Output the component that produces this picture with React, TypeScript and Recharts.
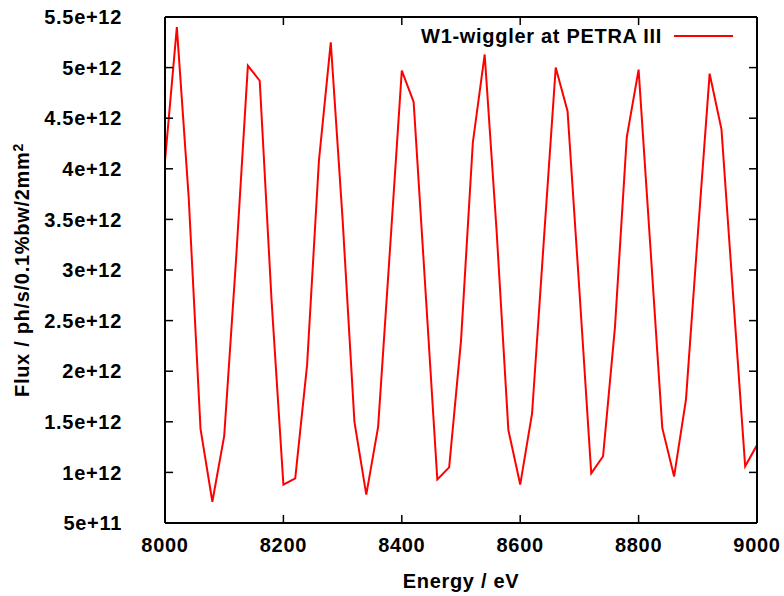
import { LineChart, Line, XAxis, YAxis, Legend, Label } from "recharts";

// photon energy grid (eV)
const energy = [
  8000, 8020, 8040, 8060, 8080, 8100, 8120, 8140, 8160, 8180,
  8200, 8220, 8240, 8260, 8280, 8300, 8320, 8340, 8360, 8380,
  8400, 8420, 8440, 8460, 8480, 8500, 8520, 8540, 8560, 8580,
  8600, 8620, 8640, 8660, 8680, 8700, 8720, 8740, 8760, 8780,
  8800, 8820, 8840, 8860, 8880, 8900, 8920, 8940, 8960, 8980,
  9000,
];

// flux (ph/s/0.1%bw/2mm^2)
const flux = [
  4.08e12, 5.4e12, 3.72e12, 1.43e12, 0.71e12, 1.36e12, 3.1e12, 5.02e12, 4.87e12, 2.7e12,
  0.88e12, 0.94e12, 2.06e12, 4.08e12, 5.25e12, 3.5e12, 1.5e12, 0.78e12, 1.45e12, 3.2e12,
  4.97e12, 4.66e12, 2.8e12, 0.93e12, 1.05e12, 2.3e12, 4.26e12, 5.13e12, 3.4e12, 1.42e12,
  0.88e12, 1.58e12, 3.3e12, 5.0e12, 4.57e12, 2.8e12, 0.99e12, 1.16e12, 2.43e12, 4.31e12,
  4.98e12, 3.22e12, 1.44e12, 0.96e12, 1.72e12, 3.35e12, 4.94e12, 4.39e12, 2.72e12, 1.06e12,
  1.27e12,
];

const xTicks = [8000, 8200, 8400, 8600, 8800, 9000];
const yTicks = [5e11, 1e12, 1.5e12, 2e12, 2.5e12, 3e12, 3.5e12, 4e12, 4.5e12, 5e12, 5.5e12];

const seriesName = "W1-wiggler at PETRA III";

const data = energy.map((e, i) => ({ energy: e, flux: flux[i] }));

const FONT = "'Liberation Sans', Arial, Helvetica, sans-serif";
const FS = 20;
const LS = 0.7;
const TICK = -8; // negative size -> gnuplot-style ticks pointing inwards

const tickLineStyle = { stroke: "#000", strokeWidth: 1.5 };
const borderStyle = { stroke: "#000", strokeWidth: 2 };

// gnuplot style "5e+11", "1.5e+12"
function fmtExp(v: number) {
  const exp = Math.floor(Math.log10(v) + 1e-9);
  const mant = Number((v / Math.pow(10, exp)).toFixed(2));
  return `${mant}e+${exp}`;
}

const BottomTick = (props: any) => {
  const { x, y, payload } = props;
  return (
    <text x={x} y={y} dy="0.355em" textAnchor="middle" fontFamily={FONT} fontWeight="bold"
      fontSize={FS} letterSpacing={LS} fill="#000">
      {payload.value}
    </text>
  );
};

const LeftTick = (props: any) => {
  const { x, y, payload } = props;
  return (
    <text x={x} y={y} dy="0.355em" textAnchor="end" fontFamily={FONT} fontWeight="bold"
      fontSize={FS} letterSpacing={LS} fill="#000">
      {fmtExp(payload.value)}
    </text>
  );
};

// mirrored axes: tick marks only, no labels
const NoLabel = () => <g />;

const YTitle = (props: any) => {
  const { viewBox } = props;
  const cx = 22;
  const cy = viewBox.y + viewBox.height / 2;
  return (
    <text
      x={cx}
      y={cy}
      transform={`rotate(-90, ${cx}, ${cy})`}
      textAnchor="middle"
      dy="0.355em"
      fontFamily={FONT}
      fontWeight="bold"
      fontSize={FS}
      letterSpacing={LS}
      fill="#000"
    >
      Flux / ph/s/0.1%bw/2mm
      <tspan dy="-0.45em" fontSize={14}>2</tspan>
    </text>
  );
};

const LegendBox = () => (
  <div
    style={{
      display: "flex",
      alignItems: "center",
      justifyContent: "flex-end",
      fontFamily: FONT,
      fontWeight: "bold",
      fontSize: FS,
      letterSpacing: LS,
      lineHeight: "24px",
      color: "#000",
    }}
  >
    <span>{seriesName}</span>
    <svg width={59} height={4} style={{ marginLeft: 12 }}>
      <line x1={0} x2={59} y1={2} y2={2} stroke="#ff0000" strokeWidth={2} />
    </svg>
  </div>
);

export default function App() {
  return (
    <div style={{ position: "absolute", left: 0, top: 0, width: 784, height: 596, background: "#fff" }}>
      <LineChart width={784} height={596} data={data} margin={{ top: 16, right: 26, bottom: 0, left: 0 }}>
        <XAxis
          xAxisId="bottom"
          dataKey="energy"
          type="number"
          domain={[8000, 9000]}
          ticks={xTicks}
          allowDataOverflow
          height={73}
          tickSize={TICK}
          tickMargin={30}
          tickLine={tickLineStyle}
          tick={BottomTick}
          axisLine={borderStyle}
        >
          <Label
            value="Energy / eV"
            position="insideBottom"
            offset={8}
            style={{ fontFamily: FONT, fontWeight: "bold", fontSize: FS, letterSpacing: LS, fill: "#000" }}
          />
        </XAxis>
        <XAxis
          xAxisId="top"
          orientation="top"
          dataKey="energy"
          type="number"
          domain={[8000, 9000]}
          ticks={xTicks}
          allowDataOverflow
          height={1}
          tickSize={TICK}
          tickLine={tickLineStyle}
          tick={NoLabel}
          axisLine={borderStyle}
        />
        <YAxis
          yAxisId="left"
          type="number"
          domain={[5e11, 5.5e12]}
          ticks={yTicks}
          allowDataOverflow
          width={165}
          tickSize={TICK}
          tickMargin={51}
          tickLine={tickLineStyle}
          tick={LeftTick}
          axisLine={borderStyle}
        >
          <Label content={YTitle} />
        </YAxis>
        <YAxis
          yAxisId="right"
          orientation="right"
          type="number"
          domain={[5e11, 5.5e12]}
          ticks={yTicks}
          allowDataOverflow
          width={1}
          tickSize={TICK}
          tickLine={tickLineStyle}
          tick={NoLabel}
          axisLine={borderStyle}
        />
        <Legend
          verticalAlign="middle"
          align="center"
          content={LegendBox}
          wrapperStyle={{ position: "absolute", top: 24, left: 380, width: 353, height: 24 }}
        />
        <Line
          xAxisId="bottom"
          yAxisId="left"
          type="linear"
          dataKey="flux"
          name={seriesName}
          stroke="#ff0000"
          strokeWidth={2}
          dot={false}
          activeDot={false}
          isAnimationActive={false}
        />
        <Line
          xAxisId="top"
          yAxisId="right"
          type="linear"
          dataKey="flux"
          stroke="none"
          dot={false}
          activeDot={false}
          legendType="none"
          isAnimationActive={false}
        />
      </LineChart>
    </div>
  );
}
